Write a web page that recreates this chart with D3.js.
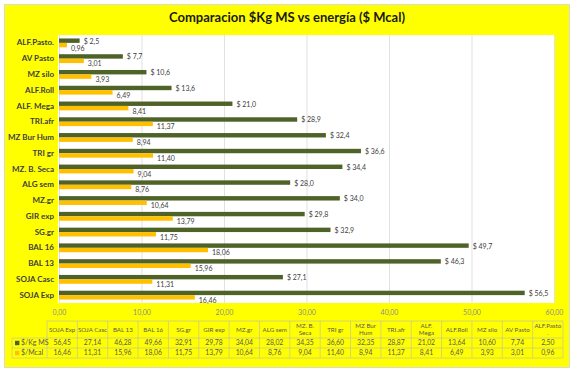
<!DOCTYPE html>
<html>
<head>
<meta charset="utf-8">
<script src="https://cdn.jsdelivr.net/npm/d3@7"></script>
<style>
body { margin: 0; background: #fff; }
svg { display: block; }
text { font-family: Lato, "Open Sans", sans-serif; }
</style>
</head>
<body>
<script>
var width = 574
var height = 372

// categories in table order (bottom to top in the chart)
var categories = ["SOJA Exp", "SOJA Casc", "BAL 13", "BAL 16", "SG.gr", "GIR exp", "MZ.gr", "ALG sem",
  "MZ. B. Seca", "TRI gr", "MZ Bur Hum", "TRI.afr", "ALF. Mega", "ALF.Roll", "MZ silo", "AV Pasto", "ALF.Pasto."]
// the same names as they wrap in the data table header
var tableHeads = ["SOJA Exp", "SOJA Casc", "BAL 13", "BAL 16", "SG.gr", "GIR exp", "MZ.gr", "ALG sem",
  "MZ. B.|Seca", "TRI gr", "MZ Bur|Hum", "TRI.afr", "ALF.|Mega", "ALF.Roll", "MZ silo", "AV Pasto", "ALF.Pasto|."]
var kgMS = [56.45, 27.14, 46.28, 49.66, 32.91, 29.78, 34.04, 28.02, 34.35, 36.60, 32.35, 28.87, 21.02, 13.64, 10.60, 7.74, 2.50]
var mcal = [16.46, 11.31, 15.96, 18.06, 11.75, 13.79, 10.64, 8.76, 9.04, 11.40, 8.94, 11.37, 8.41, 6.49, 3.93, 3.01, 0.96]
var seriesNames = ["$/Kg MS", "$/Mcal"]
var seriesKeys = ["kg", "mcal"]
var xTicks = [0, 10, 20, 30, 40, 50, 60]
var title = "Comparacion $Kg MS vs energía ($ Mcal)"

var colors = { kg: "#4f6228", mcal: "#ffc000" }

var loc = d3.formatLocale({ decimal: ",", thousands: ".", grouping: [3], currency: ["$ ", ""] })
var f1 = loc.format(".1f")
var f2 = loc.format(".2f")

var data = categories.map(function(c, i) { return { cat: c, head: tableHeads[i], kg: kgMS[i], mcal: mcal[i] } })

var plot = { left: 58, right: 555, top: 35, bottom: 303 }

var svg = d3.select("body").append("svg")
  .attr("width", width)
  .attr("height", height)

// chart background
svg.append("rect")
  .attr("x", 4.5).attr("y", 4.5)
  .attr("width", 565).attr("height", 363)
  .attr("fill", "#ffff00")
  .attr("stroke", "#d9d9d9")

svg.append("text")
  .attr("x", 287).attr("y", 22)
  .attr("text-anchor", "middle")
  .style("font-size", "13px")
  .style("font-weight", "bold")
  .attr("fill", "#1a1a1a")
  .text(title)

svg.append("rect")
  .attr("x", plot.left).attr("y", plot.top)
  .attr("width", plot.right - plot.left).attr("height", plot.bottom - plot.top)
  .attr("fill", "#fff")

var x = d3.scaleLinear()
  .domain([0, 60])
  .range([59, 554])

var y = d3.scaleBand()
  .domain(categories.slice().reverse())
  .range([plot.top, plot.bottom])
  .paddingInner(0.44)
  .paddingOuter(0.22)

var ySub = d3.scaleBand()
  .domain(seriesKeys)
  .range([0, y.bandwidth()])

// grid
svg.append("g")
  .attr("transform", "translate(0," + plot.bottom + ")")
  .call(d3.axisBottom(x).tickValues(xTicks).tickSize(-(plot.bottom - plot.top)).tickFormat(""))
  .call(function(g) {
    g.select(".domain").remove()
    g.selectAll("line").attr("stroke", "#d9d9d9").attr("stroke-width", 0.8)
  })

// x tick labels
svg.append("g")
  .attr("transform", "translate(0," + plot.bottom + ")")
  .call(d3.axisBottom(x).tickValues(xTicks).tickSize(0).tickPadding(7).tickFormat(f2))
  .call(function(g) {
    g.select(".domain").remove()
    g.selectAll("text").attr("fill", "#8c8c8c").style("font-size", "7px")
      .style("font-family", "Lato, sans-serif")
  })

// y category labels
svg.append("g")
  .attr("transform", "translate(" + plot.left + ",0)")
  .call(d3.axisLeft(y).tickSize(0).tickPadding(4))
  .call(function(g) {
    g.select(".domain").remove()
    g.selectAll("text").attr("fill", "#404040").style("font-size", "8px")
      .style("font-weight", "bold").style("font-family", "Lato, sans-serif")
  })

// bars
var groups = svg.append("g").selectAll("g")
  .data(data)
  .enter().append("g")
  .attr("transform", function(d) { return "translate(0," + y(d.cat) + ")" })

seriesKeys.forEach(function(k) {
  groups.append("rect")
    .attr("x", x(0))
    .attr("y", ySub(k))
    .attr("width", function(d) { return x(d[k]) - x(0) })
    .attr("height", ySub.bandwidth())
    .attr("fill", colors[k])

  groups.append("text")
    .attr("x", function(d) { return x(d[k]) + 4 })
    .attr("y", ySub(k) + ySub.bandwidth() / 2 + (k == "kg" ? 0.5 : 3))
    .attr("dy", "0.35em")
    .attr("fill", "#404040")
    .style("font-size", "7px")
    .text(function(d) { return k == "kg" ? "$ " + f1(d[k]) : f2(d[k]) })
})

// data table
var tbl = { left: 47, right: 563, top: 321, head: 338, r1: 348, r2: 358, legendLeft: 12 }
var colX = d3.scaleBand().domain(categories).range([tbl.left, tbl.right])
var lineCol = "#c9c98a"
var table = svg.append("g")

var rowY = [tbl.top, tbl.head, tbl.r1, tbl.r2]
rowY.forEach(function(yy, i) {
  table.append("line")
    .attr("x1", i == 0 ? tbl.left : tbl.legendLeft).attr("x2", tbl.right)
    .attr("y1", yy).attr("y2", yy)
    .attr("stroke", lineCol).attr("stroke-width", 0.8)
})
categories.concat(["end"]).forEach(function(c, i) {
  var xx = i < categories.length ? colX(c) : tbl.right
  table.append("line")
    .attr("x1", xx).attr("x2", xx)
    .attr("y1", tbl.top).attr("y2", tbl.r2)
    .attr("stroke", lineCol).attr("stroke-width", 0.8)
})
table.append("line")
  .attr("x1", tbl.legendLeft).attr("x2", tbl.legendLeft)
  .attr("y1", tbl.head).attr("y2", tbl.r2)
  .attr("stroke", lineCol).attr("stroke-width", 0.8)

// header cells
table.selectAll(".head")
  .data(data)
  .enter().append("text")
  .attr("class", "head")
  .attr("text-anchor", "middle")
  .attr("fill", "#595959")
  .style("font-size", "6.2px")
  .each(function(d) {
    var lines = d.head.split("|")
    var cy = (tbl.top + tbl.head) / 2
    var t = d3.select(this)
    lines.forEach(function(l, i) {
      t.append("tspan")
        .attr("x", colX(d.cat) + colX.bandwidth() / 2)
        .attr("y", cy + (i - (lines.length - 1) / 2) * 7.5)
        .attr("dy", "0.35em")
        .text(l)
    })
  })

var rows = [{ key: "kg", y: (tbl.head + tbl.r1) / 2 }, { key: "mcal", y: (tbl.r1 + tbl.r2) / 2 }]
rows.forEach(function(r, ri) {
  table.selectAll(".v" + r.key)
    .data(data)
    .enter().append("text")
    .attr("x", function(d) { return colX(d.cat) + colX.bandwidth() / 2 })
    .attr("y", r.y)
    .attr("dy", "0.35em")
    .attr("text-anchor", "middle")
    .attr("fill", "#595959")
    .style("font-size", "6.8px")
    .text(function(d) { return f2(d[r.key]) })

  table.append("rect")
    .attr("x", 15).attr("y", r.y - 2.2)
    .attr("width", 4.4).attr("height", 4.4)
    .attr("fill", colors[r.key])
  table.append("text")
    .attr("x", 21).attr("y", r.y)
    .attr("dy", "0.35em")
    .attr("fill", "#595959")
    .style("font-size", "7px")
    .text(seriesNames[ri])
})
</script>
</body>
</html>
